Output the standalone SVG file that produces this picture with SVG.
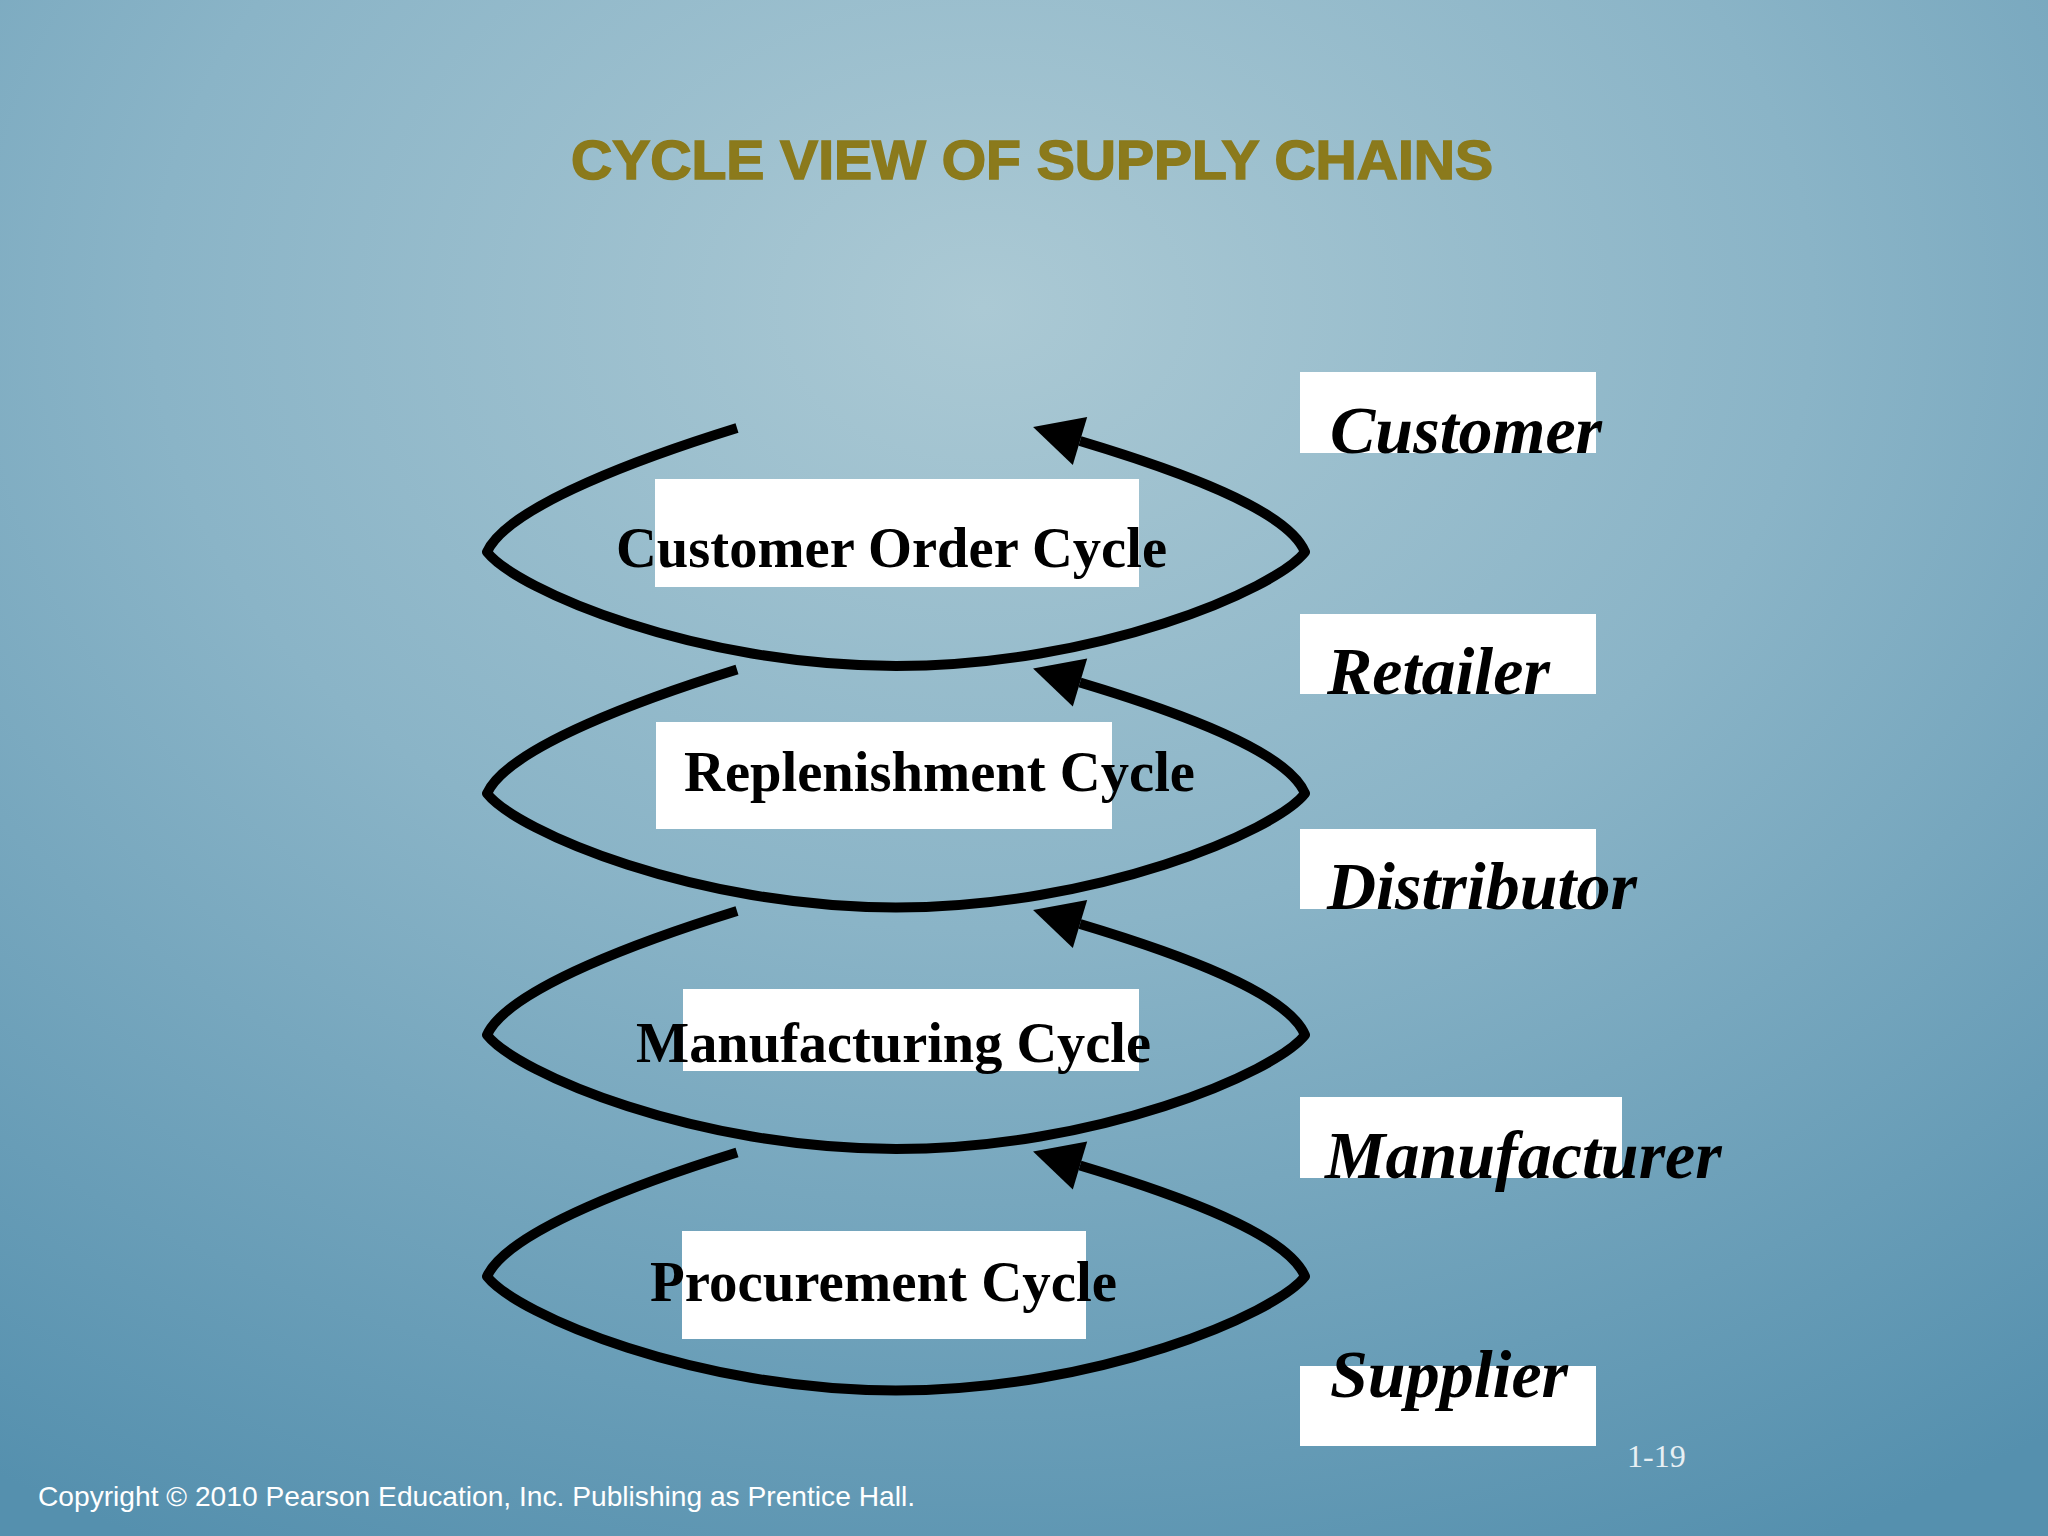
<svg xmlns="http://www.w3.org/2000/svg" width="2048" height="1536" viewBox="0 0 2048 1536">
  <defs>
    <radialGradient id="bg" cx="0.48" cy="0.2" r="0.9" gradientUnits="objectBoundingBox">
      <stop offset="0" stop-color="#abc9d4"/>
      <stop offset="0.45" stop-color="#8ab4c7"/>
      <stop offset="1" stop-color="#5590ae"/>
    </radialGradient>
    <marker id="arrow" markerUnits="userSpaceOnUse" orient="auto" markerWidth="60" markerHeight="60" refX="0" refY="25" overflow="visible">
      <path d="M0,0 L49,25 L0,50 z" fill="#000"/>
    </marker>
  </defs>
  <style>
    .loop { fill: none; stroke: #000; stroke-width: 10; stroke-linejoin: round; stroke-linecap: butt; marker-end: url(#arrow); }
    .box { fill: #ffffff; }
    .cyc { font-family: "Liberation Serif", "Times New Roman", serif; font-weight: bold; font-size: 57px; fill: #000; }
    .role { font-family: "Liberation Serif", "Times New Roman", serif; font-weight: bold; font-style: italic; font-size: 68px; fill: #000; }
    .title { font-family: "Liberation Sans", Arial, sans-serif; font-weight: bold; font-size: 56px; fill: #8b7a1c; stroke: #8b7a1c; stroke-width: 1.6; }
    .foot { font-family: "Liberation Sans", Arial, sans-serif; font-size: 28px; fill: #ffffff; }
    .page { font-family: "Liberation Serif", "Times New Roman", serif; font-size: 32px; fill: #e8f0f4; }
  </style>

  <rect x="0" y="0" width="2048" height="1536" fill="url(#bg)"/>

  <text class="title" x="571" y="179" textLength="922" lengthAdjust="spacingAndGlyphs">CYCLE VIEW OF SUPPLY CHAINS</text>

  <g id="node-customer-order-cycle">
    <rect class="box" x="655" y="479" width="484" height="108"/>
  </g>
  <g id="node-replenishment-cycle">
    <rect class="box" x="656" y="722" width="456" height="107"/>
  </g>
  <g id="node-manufacturing-cycle">
    <rect class="box" x="683" y="989" width="456" height="82"/>
  </g>
  <g id="node-procurement-cycle">
    <rect class="box" x="682" y="1231" width="404" height="108"/>
  </g>

  <g id="connectors">
    <path class="loop" d="M 737,428 C 650,455 508,505 487,552 C 517,590 696,666 896,666 C 1096,666 1275,590 1305,552 C 1288,510 1180,471 1080,441"/>
    <path class="loop" transform="translate(0,241.5)" d="M 737,428 C 650,455 508,505 487,552 C 517,590 696,666 896,666 C 1096,666 1275,590 1305,552 C 1288,510 1180,471 1080,441"/>
    <path class="loop" transform="translate(0,483)" d="M 737,428 C 650,455 508,505 487,552 C 517,590 696,666 896,666 C 1096,666 1275,590 1305,552 C 1288,510 1180,471 1080,441"/>
    <path class="loop" transform="translate(0,724.5)" d="M 737,428 C 650,455 508,505 487,552 C 517,590 696,666 896,666 C 1096,666 1275,590 1305,552 C 1288,510 1180,471 1080,441"/>
  </g>

  <g id="labels-cycles">
    <text class="cyc" x="616" y="567" textLength="551" lengthAdjust="spacingAndGlyphs">Customer Order Cycle</text>
    <text class="cyc" x="684" y="791" textLength="511" lengthAdjust="spacingAndGlyphs">Replenishment Cycle</text>
    <text class="cyc" x="636" y="1062" textLength="515" lengthAdjust="spacingAndGlyphs">Manufacturing Cycle</text>
    <text class="cyc" x="650" y="1301" textLength="467" lengthAdjust="spacingAndGlyphs">Procurement Cycle</text>
  </g>

  <g id="node-customer">
    <rect class="box" x="1300" y="372" width="296" height="81"/>
    <text class="role" x="1330" y="453">Customer</text>
  </g>
  <g id="node-retailer">
    <rect class="box" x="1300" y="614" width="296" height="80"/>
    <text class="role" x="1327" y="694">Retailer</text>
  </g>
  <g id="node-distributor">
    <rect class="box" x="1300" y="829" width="296" height="80"/>
    <text class="role" x="1327" y="909">Distributor</text>
  </g>
  <g id="node-manufacturer">
    <rect class="box" x="1300" y="1097" width="322" height="81"/>
    <text class="role" x="1325" y="1178">Manufacturer</text>
  </g>
  <g id="node-supplier">
    <rect class="box" x="1300" y="1366" width="296" height="80"/>
    <text class="role" x="1330" y="1397">Supplier</text>
  </g>

  <text class="page" x="1627" y="1467">1-19</text>
  <text class="foot" x="38" y="1506" textLength="877" lengthAdjust="spacingAndGlyphs">Copyright © 2010 Pearson Education, Inc. Publishing as Prentice Hall.</text>
</svg>
